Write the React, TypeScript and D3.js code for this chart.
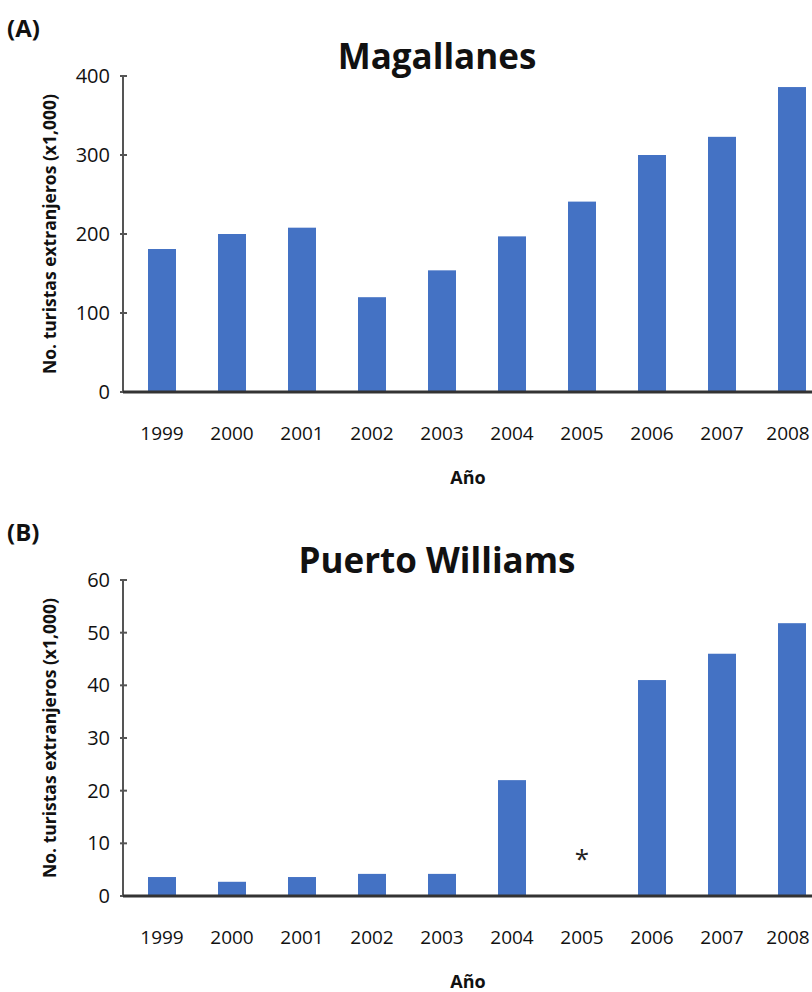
import React from 'react';
import * as d3 from 'd3';

const years = ['1999', '2000', '2001', '2002', '2003', '2004', '2005', '2006', '2007', '2008'];
const magallanes = [181, 200, 208, 120, 154, 197, 241, 300, 323, 386];
// 2005 has no data for Puerto Williams (marked with *)
const puertoWilliams = [3.6, 2.7, 3.6, 4.2, 4.2, 22, null, 41, 46, 51.8];
const ticksA = [0, 100, 200, 300, 400];
const ticksB = [0, 10, 20, 30, 40, 50, 60];

const FONT = '"Open Sans", sans-serif';
const BAR = '#4472C4';

type PanelProps = {
  letter: string;
  title: string;
  values: (number | null)[];
  ticks: number[];
  top: number;
  bottom: number;
};

const Panel = ({ letter, title, values, ticks, top, bottom }: PanelProps) => {
  const left = 123;
  const x = d3.scaleBand().domain(years).range([127, 827]).paddingInner(0.6).paddingOuter(0.3);
  const y = d3.scaleLinear().domain([0, ticks[ticks.length - 1]]).range([bottom, top]);
  const midY = (top + bottom) / 2;

  return (
    <g fontFamily={FONT}>
      <text x={7} y={top - 39} fontSize={24} fontWeight="bold" fill="#111">
        ({letter})
      </text>
      <text x={437} y={top - 7} fontSize={35} fontWeight="bold" textAnchor="middle" fill="#111">
        {title}
      </text>
      <text
        transform={`translate(56,${midY}) rotate(-90)`}
        fontSize={17.5}
        fontWeight="bold"
        textAnchor="middle"
        fill="#111"
      >
        No. turistas extranjeros (x1,000)
      </text>

      {values.map((v, i) =>
        v === null ? (
          <text
            key={years[i]}
            x={x(years[i])! + x.bandwidth() / 2}
            y={y(8) + 14}
            fontSize={26}
            textAnchor="middle"
            fill="#222"
          >
            *
          </text>
        ) : (
          <rect
            key={years[i]}
            x={x(years[i])}
            y={y(v)}
            width={x.bandwidth()}
            height={bottom - y(v)}
            fill={BAR}
          />
        )
      )}

      <line x1={left} x2={left} y1={top} y2={bottom} stroke="#555" strokeWidth={2} />
      {ticks.map((t) => (
        <g key={t}>
          <line x1={left - 3} x2={left + 4} y1={y(t)} y2={y(t)} stroke="#555" strokeWidth={2} />
          <text x={left - 13} y={y(t)} dy="0.35em" fontSize={20} textAnchor="end" fill="#111">
            {t}
          </text>
        </g>
      ))}
      <line x1={left} x2={812} y1={bottom} y2={bottom} stroke="#333" strokeWidth={3} />

      {years.map((yr) => (
        <text
          key={yr}
          x={Math.min(x(yr)! + x.bandwidth() / 2, 788)}
          y={bottom + 48}
          fontSize={19}
          textAnchor="middle"
          fill="#111"
        >
          {yr}
        </text>
      ))}
      <text x={468} y={bottom + 92} fontSize={18} fontWeight="bold" textAnchor="middle" fill="#111">
        Año
      </text>
    </g>
  );
};

export default function App() {
  return (
    <svg
      width={812}
      height={992}
      style={{ position: 'absolute', left: 0, top: 0, background: '#fff' }}
    >
      <rect width={812} height={992} fill="#fff" />
      <Panel letter="A" title="Magallanes" values={magallanes} ticks={ticksA} top={76} bottom={392} />
      <Panel letter="B" title="Puerto Williams" values={puertoWilliams} ticks={ticksB} top={580} bottom={896} />
    </svg>
  );
}
